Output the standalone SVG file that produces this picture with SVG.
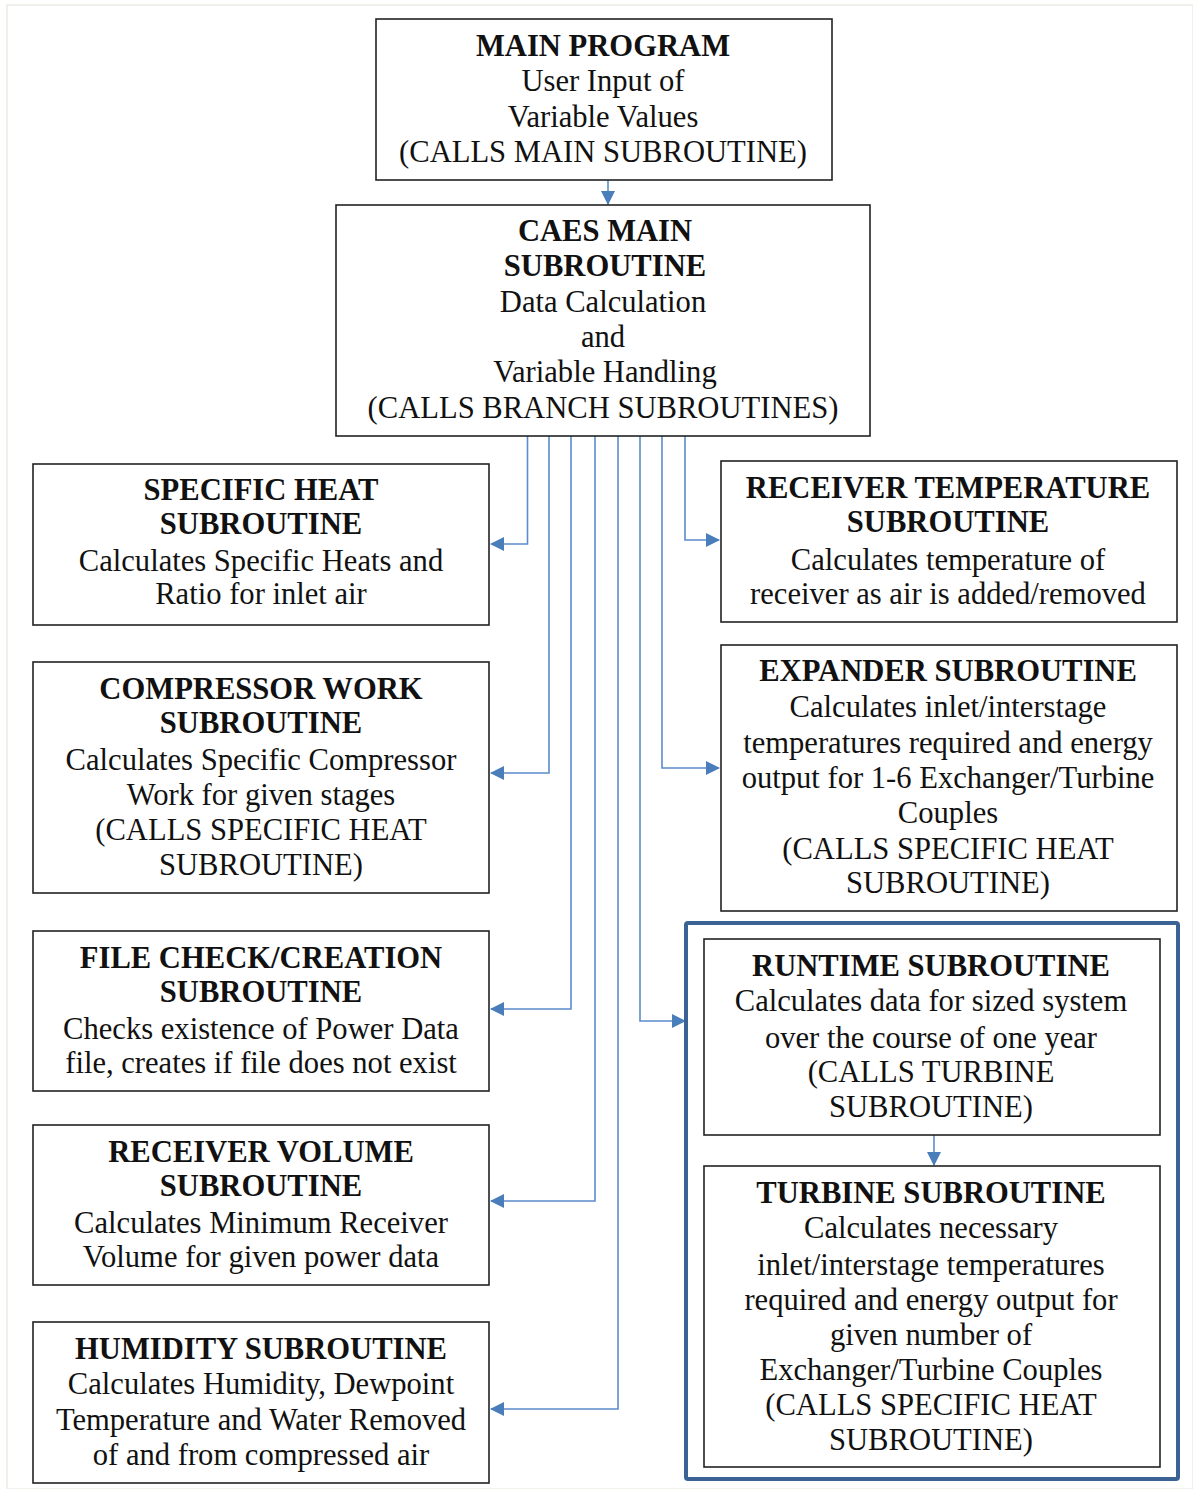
<svg xmlns="http://www.w3.org/2000/svg" width="1193" height="1489" viewBox="0 0 1193 1489">
<defs>
<marker id="ah" viewBox="0 0 14 14" markerWidth="14" markerHeight="14" refX="13" refY="7" orient="auto" markerUnits="userSpaceOnUse">
<path d="M0,0 L14,7 L0,14 Z" fill="#4a7ebb"/>
</marker>
<style>
.box{fill:#fff;stroke:#222;stroke-width:1.6}
.grp{fill:none;stroke:#3a6294;stroke-width:4}
.t{font-family:"Liberation Serif","Times New Roman",serif;font-size:30.6px;fill:#111;text-anchor:middle}
.b{font-weight:bold}
.c{fill:none;stroke:#5b8ccc;stroke-width:1.6;marker-end:url(#ah)}
</style>
</defs>
<rect x="0" y="0" width="1193" height="1489" fill="#fff"/>
<rect x="7" y="5" width="1186" height="1484" fill="none" stroke="#eeece4" stroke-width="1.5"/>

<g id="connectors">
<path class="c" d="M608,180 V204"/>
<path class="c" d="M527.5,436 V544 H491"/>
<path class="c" d="M549,436 V773 H491"/>
<path class="c" d="M571,436 V1009 H491"/>
<path class="c" d="M595,436 V1201 H491"/>
<path class="c" d="M618,436 V1409 H491"/>
<path class="c" d="M640,436 V1021 H685"/>
<path class="c" d="M662,436 V768 H719"/>
<path class="c" d="M685,436 V540 H719"/>
<path class="c" d="M934,1135 V1165"/>
</g>

<g id="main-program">
<rect class="box" x="376" y="19" width="456" height="161"/>
<text class="t b" x="603" y="56">MAIN PROGRAM</text>
<text class="t" x="603" y="91">User Input of</text>
<text class="t" x="603" y="127">Variable Values</text>
<text class="t" x="603" y="162">(CALLS MAIN SUBROUTINE)</text>
</g>

<g id="caes-main">
<rect class="box" x="336" y="205" width="534" height="231"/>
<text class="t b" x="605" y="241">CAES MAIN</text>
<text class="t b" x="605" y="276">SUBROUTINE</text>
<text class="t" x="603" y="312">Data Calculation</text>
<text class="t" x="603" y="347">and</text>
<text class="t" x="605" y="382">Variable Handling</text>
<text class="t" x="603" y="418">(CALLS BRANCH SUBROUTINES)</text>
</g>

<g id="specific-heat">
<rect class="box" x="33" y="464" width="456" height="161"/>
<text class="t b" x="261" y="500">SPECIFIC HEAT</text>
<text class="t b" x="261" y="534">SUBROUTINE</text>
<text class="t" x="261" y="571">Calculates Specific Heats and</text>
<text class="t" x="261" y="604">Ratio for inlet air</text>
</g>

<g id="receiver-temperature">
<rect class="box" x="721" y="461" width="456" height="161"/>
<text class="t b" x="948" y="498">RECEIVER TEMPERATURE</text>
<text class="t b" x="948" y="532">SUBROUTINE</text>
<text class="t" x="948" y="570">Calculates temperature of</text>
<text class="t" x="948" y="604">receiver as air is added/removed</text>
</g>

<g id="compressor-work">
<rect class="box" x="33" y="662" width="456" height="231"/>
<text class="t b" x="261" y="699">COMPRESSOR WORK</text>
<text class="t b" x="261" y="733">SUBROUTINE</text>
<text class="t" x="261" y="770">Calculates Specific Compressor</text>
<text class="t" x="261" y="805">Work for given stages</text>
<text class="t" x="261" y="840">(CALLS SPECIFIC HEAT</text>
<text class="t" x="261" y="875">SUBROUTINE)</text>
</g>

<g id="expander">
<rect class="box" x="721" y="645" width="456" height="266"/>
<text class="t b" x="948" y="681">EXPANDER SUBROUTINE</text>
<text class="t" x="948" y="717">Calculates inlet/interstage</text>
<text class="t" x="948" y="753">temperatures required and energy</text>
<text class="t" x="948" y="788">output for 1-6 Exchanger/Turbine</text>
<text class="t" x="948" y="823">Couples</text>
<text class="t" x="948" y="859">(CALLS SPECIFIC HEAT</text>
<text class="t" x="948" y="893">SUBROUTINE)</text>
</g>

<g id="file-check">
<rect class="box" x="33" y="931" width="456" height="160"/>
<text class="t b" x="261" y="968">FILE CHECK/CREATION</text>
<text class="t b" x="261" y="1002">SUBROUTINE</text>
<text class="t" x="261" y="1039">Checks existence of Power Data</text>
<text class="t" x="261" y="1073">file, creates if file does not exist</text>
</g>

<g id="receiver-volume">
<rect class="box" x="33" y="1125" width="456" height="160"/>
<text class="t b" x="261" y="1162">RECEIVER VOLUME</text>
<text class="t b" x="261" y="1196">SUBROUTINE</text>
<text class="t" x="261" y="1233">Calculates Minimum Receiver</text>
<text class="t" x="261" y="1267">Volume for given power data</text>
</g>

<g id="humidity">
<rect class="box" x="33" y="1322" width="456" height="161"/>
<text class="t b" x="261" y="1359">HUMIDITY SUBROUTINE</text>
<text class="t" x="261" y="1394">Calculates Humidity, Dewpoint</text>
<text class="t" x="261" y="1430">Temperature and Water Removed</text>
<text class="t" x="261" y="1465">of and from compressed air</text>
</g>

<g id="runtime-group">
<rect class="grp" x="686" y="923" width="492" height="556" rx="2"/>
</g>

<g id="runtime">
<rect class="box" x="704" y="939" width="456" height="196"/>
<text class="t b" x="931" y="976">RUNTIME SUBROUTINE</text>
<text class="t" x="931" y="1011">Calculates data for sized system</text>
<text class="t" x="931" y="1048">over the course of one year</text>
<text class="t" x="931" y="1082">(CALLS TURBINE</text>
<text class="t" x="931" y="1117">SUBROUTINE)</text>
</g>

<g id="turbine">
<rect class="box" x="704" y="1166" width="456" height="301"/>
<text class="t b" x="931" y="1203">TURBINE SUBROUTINE</text>
<text class="t" x="931" y="1238">Calculates necessary</text>
<text class="t" x="931" y="1275">inlet/interstage temperatures</text>
<text class="t" x="931" y="1310">required and energy output for</text>
<text class="t" x="931" y="1345">given number of</text>
<text class="t" x="931" y="1380">Exchanger/Turbine Couples</text>
<text class="t" x="931" y="1415">(CALLS SPECIFIC HEAT</text>
<text class="t" x="931" y="1450">SUBROUTINE)</text>
</g>
</svg>
